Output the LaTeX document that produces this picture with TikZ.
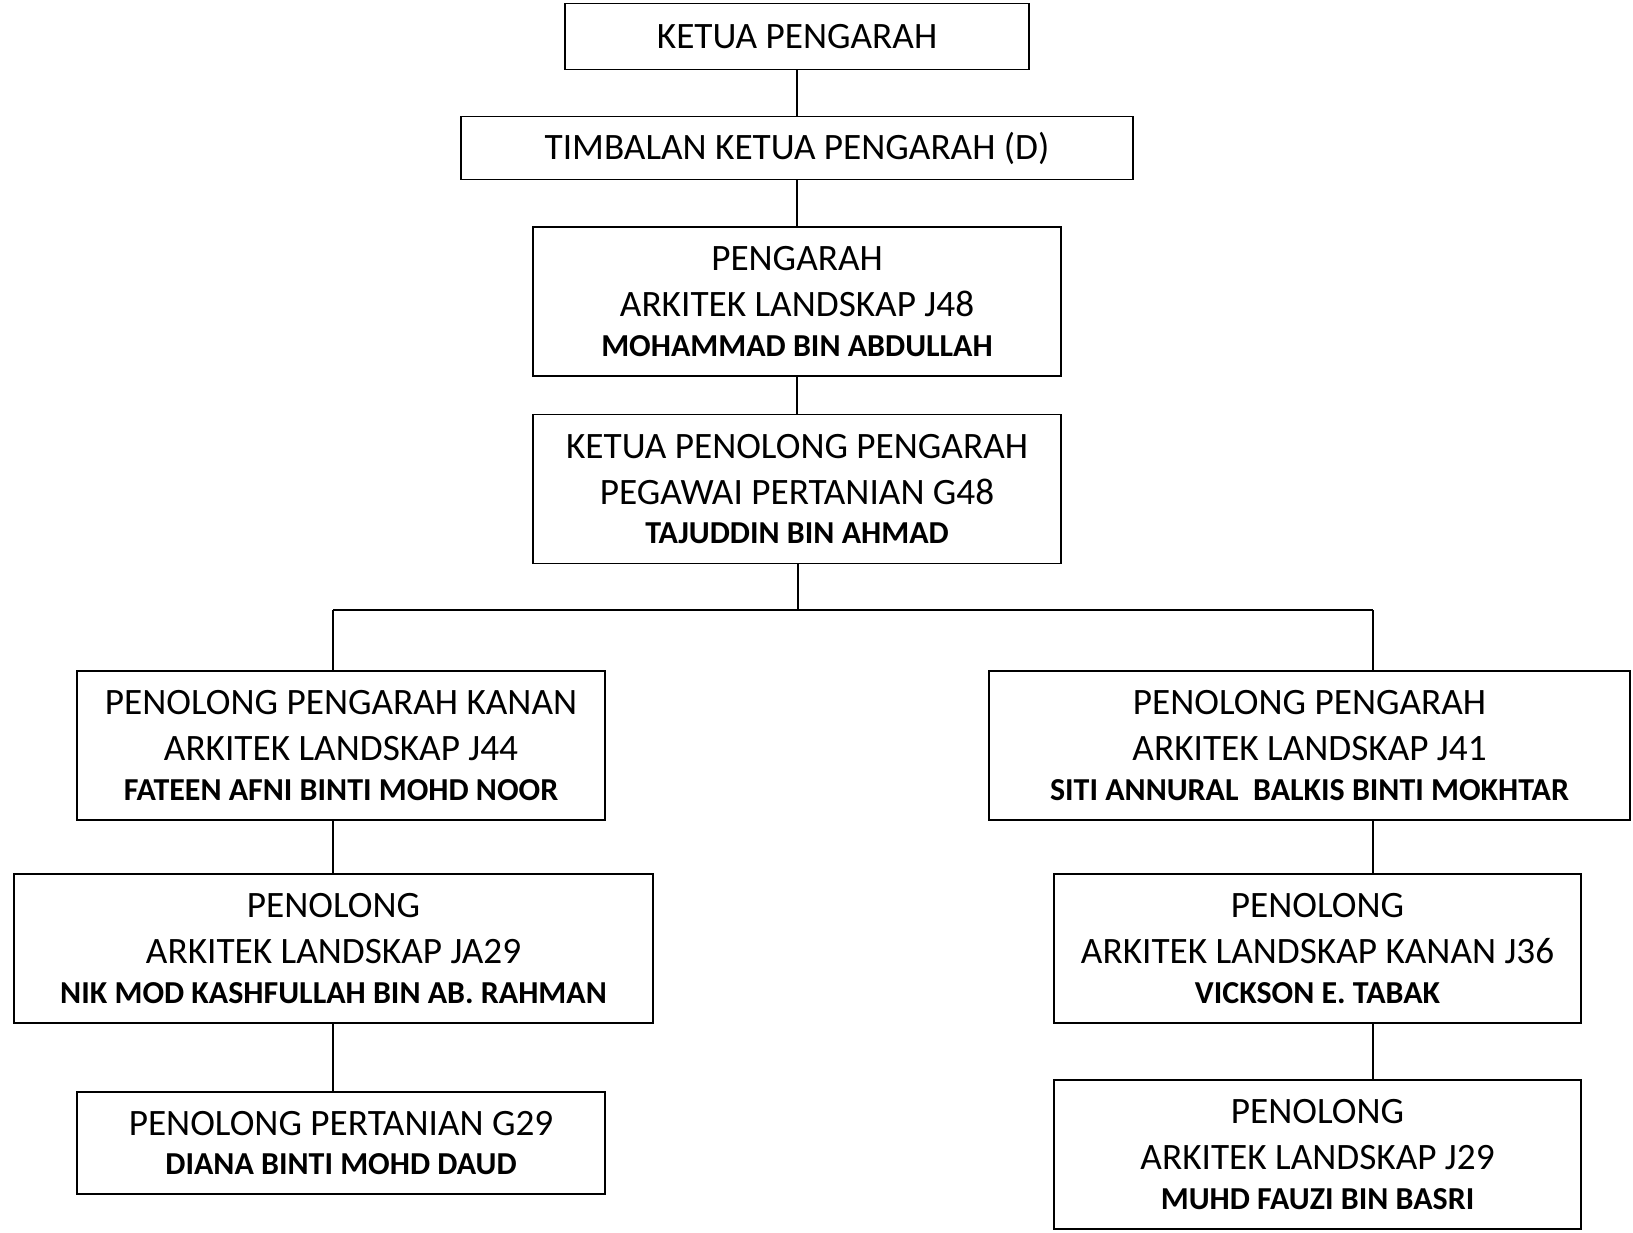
\documentclass[tikz,border=0pt]{standalone}
\usepackage{fontspec}
\setmainfont{Carlito}
\usepackage{tikz}
\usetikzlibrary{positioning}
\newcommand{\nama}[1]{{\fontsize{18.2}{22}\selectfont\bfseries #1}}

\begin{document}
\begin{tikzpicture}[x=0.02cm, y=-0.02cm,
    jawatan/.style={draw, line width=1.1pt, align=center, inner sep=0pt,
                    font=\fontsize{21.2}{26}\selectfont},
    garis/.style={line width=1.1pt}]
    \useasboundingbox (0,0) rectangle (1633,1232);

    % Top of the chart
    \node[jawatan, minimum width=9.3cm, minimum height=1.32cm] (kp) at (797,36.5) {KETUA PENGARAH};
    \node[jawatan, minimum width=13.44cm, minimum height=1.26cm] (tkp) at (797,148) {TIMBALAN KETUA PENGARAH (D)};
    \node[jawatan, minimum width=10.56cm, minimum height=2.98cm] (pengarah) at (797,301.5)
        {PENGARAH\\ARKITEK LANDSKAP J48\\[-3.5pt]\nama{MOHAMMAD BIN ABDULLAH}};
    \node[jawatan, minimum width=10.56cm, minimum height=2.98cm] (kpp) at (797,489)
        {KETUA PENOLONG PENGARAH\\PEGAWAI PERTANIAN G48\\[-3.5pt]\nama{TAJUDDIN BIN AHMAD}};

    % Left branch
    \node[jawatan, minimum width=10.56cm, minimum height=2.98cm] (ppk) at (341,745.5)
        {PENOLONG PENGARAH KANAN\\ARKITEK LANDSKAP J44\\[-3.5pt]\nama{FATEEN AFNI BINTI MOHD NOOR}};
    \node[jawatan, minimum width=12.78cm, minimum height=2.98cm] (palA) at (333.5,948.5)
        {PENOLONG\\ARKITEK LANDSKAP JA29\\[-3.5pt]\nama{NIK MOD KASHFULLAH BIN AB. RAHMAN}};
    \node[jawatan, minimum width=10.56cm, minimum height=2.04cm] (ppt) at (341,1143)
        {PENOLONG PERTANIAN G29\\[-3.5pt]\nama{DIANA BINTI MOHD DAUD}};

    % Right branch
    \node[jawatan, minimum width=12.82cm, minimum height=2.98cm] (pp) at (1309.5,745.5)
        {PENOLONG PENGARAH\\ARKITEK LANDSKAP J41\\[-3.5pt]\nama{SITI ANNURAL\ \ BALKIS BINTI MOKHTAR}};
    \node[jawatan, minimum width=10.54cm, minimum height=2.98cm] (palk) at (1317.5,948.5)
        {PENOLONG\\ARKITEK LANDSKAP KANAN J36\\[-3.5pt]\nama{VICKSON E. TABAK}};
    \node[jawatan, minimum width=10.54cm, minimum height=2.98cm] (pal) at (1317.5,1154.5)
        {PENOLONG\\ARKITEK LANDSKAP J29\\[-3.5pt]\nama{MUHD FAUZI BIN BASRI}};

    % Connectors
    \coordinate (bus) at (798,610);
    \coordinate (busL) at (333,610);
    \coordinate (busR) at (1373,610);
    \draw[garis] (kp.south) -- (tkp.north);
    \draw[garis] (tkp.south) -- (pengarah.north);
    \draw[garis] (pengarah.south) -- (kpp.north);
    \draw[garis] (kpp.south -| bus) -- (bus);
    \draw[garis] (busL) -- (busR);
    \draw[garis] (busL) -- (ppk.north -| busL);
    \draw[garis] (busR) -- (pp.north -| busR);
    \draw[garis] (ppk.south -| busL) -- (palA.north -| busL);
    \draw[garis] (palA.south -| busL) -- (ppt.north -| busL);
    \draw[garis] (pp.south -| busR) -- (palk.north -| busR);
    \draw[garis] (palk.south -| busR) -- (pal.north -| busR);
\end{tikzpicture}
\end{document}
